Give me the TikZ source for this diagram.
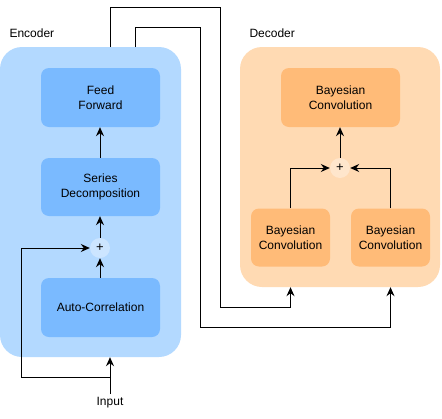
\documentclass[tikz,border=0pt]{standalone}
\usepackage{fontspec}
\setmainfont{Liberation Sans}
\usetikzlibrary{arrows.meta}
\definecolor{encbg}{RGB}{179,217,255}
\definecolor{encbox}{RGB}{122,186,255}
\definecolor{encplus}{RGB}{204,229,255}
\definecolor{decbg}{RGB}{255,218,179}
\definecolor{decbox}{RGB}{255,187,120}
\definecolor{decplus}{RGB}{255,230,204}
\begin{document}
\begin{tikzpicture}[x=1pt,y=-1pt,
  font=\fontsize{12}{14.5}\selectfont,
  container/.style={rounded corners=22pt, inner sep=0pt},
  block/.style={rounded corners=8pt, inner sep=0pt, align=center},
  plusnode/.style={circle, inner sep=0pt, minimum size=20pt, font=\fontsize{13}{13}\selectfont},
  arr/.style={draw=black, line width=1pt, -{Stealth[length=9pt,width=8pt,inset=3pt]}},
  ln/.style={draw=black, line width=1pt}]
\useasboundingbox (0,0) rectangle (442,418);
% containers
\node[container, fill=encbg, minimum width=181pt, minimum height=310pt] (enc) at (90.5,202) {};
\node[container, fill=decbg, minimum width=200pt, minimum height=240pt] (dec) at (340,167) {};
\node[anchor=west] (enclab) at (6,33) {Encoder};
\node[anchor=west] (declab) at (246,33) {Decoder};
% encoder blocks
\node[block, fill=encbox, minimum width=119pt, minimum height=59pt] (ff) at (100.5,97.5) {Feed\\Forward};
\node[block, fill=encbox, minimum width=119pt, minimum height=58pt] (sd) at (100.5,187) {Series\\Decomposition};
\node[plusnode, fill=encplus] (ep) at (100,248) {+};
\node[block, fill=encbox, minimum width=119pt, minimum height=59pt] (ac) at (100.5,307.5) {Auto-Correlation};
\node (inp) at (110,403) {Input};
% decoder blocks
\node[block, fill=decbox, minimum width=119pt, minimum height=59pt] (dt) at (340.5,97.5) {Bayesian\\Convolution};
\node[plusnode, fill=decplus] (dp) at (340,168) {+};
\node[block, fill=decbox, minimum width=79pt, minimum height=58pt] (dl) at (290.5,237.5) {Bayesian\\Convolution};
\node[block, fill=decbox, minimum width=79pt, minimum height=58pt] (dr) at (390.5,237.5) {Bayesian\\Convolution};
% encoder connectors
\draw[arr] (ac.north -| ep) -- (ep.south);
\draw[arr] (ep.north) -- (sd.south -| ep);
\draw[arr] (sd.north -| ep) -- (ff.south -| ep);
\coordinate (inb) at (110,377);
\draw[arr] (inp.north) -- (inp.north |- enc.south);
\draw[arr] (inb) -- (21,377) |- (ep.west);
% decoder connectors
\draw[arr] (dl.north) |- (dp.west);
\draw[arr] (dr.north) |- (dp.east);
\draw[arr] (dp.north) -- (dt.south -| dp);
% encoder to decoder
\coordinate (o1) at (110.5,47);
\coordinate (o2) at (135.5,47);
\draw[arr] (o1) -- (110.5,7) -- (220,7) -- (220,307) -| (dl.south |- dec.south);
\draw[arr] (o2) -- (135.5,27) -- (200,27) -- (200,327) -| (dr.south |- dec.south);
\end{tikzpicture}
\end{document}
